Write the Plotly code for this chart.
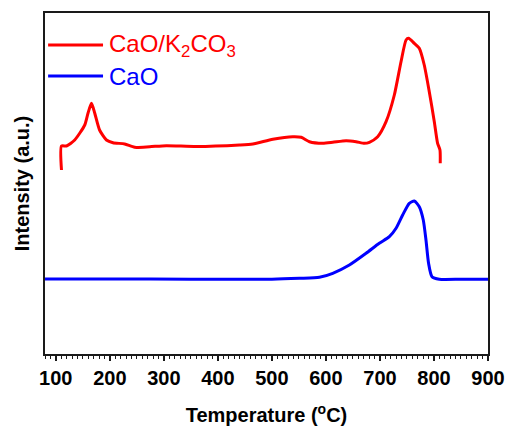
import plotly.graph_objects as go

# TPD profiles, intensity in arbitrary units
temp_k2co3 = [110.5, 110.5, 119.8, 135, 153.6, 159.7, 166, 172, 181, 193.7, 205.9,
              227.5, 246, 273.8, 304.6, 360, 440, 464.7, 501.7, 538.6, 554.2, 569.5,
              594.1, 612.6, 637.4, 655.8, 671.2, 680.4, 695.8, 711.3, 726.6, 739,
              748.3, 753, 763.6, 772.8, 782, 791.3, 800.6, 806.7, 811.1, 811.6]
int_k2co3 = [184, 208, 208, 214, 229, 241, 250.7, 241, 224, 214, 211.3,
             210, 206.7, 207.3, 208.3, 207.5, 209, 210, 214.7, 217.3, 216.7, 212.3,
             210.7, 211.7, 213.3, 212.3, 210.7, 211.7, 217.3, 232.3, 259, 292.3,
             314, 315.7, 310.7, 305.7, 289, 262.3, 232.3, 210.7, 204, 190.7]

temp_cao = [80, 200, 350, 500, 551, 588, 612.6, 643.4, 674.3, 698.7, 717.4, 729.8,
            742, 754.3, 763.6, 772.8, 780.2, 785.2, 790, 796.3, 809.8, 850, 900]
int_cao = [75, 75, 74.8, 74.8, 75.7, 76.7, 80.7, 89, 100.7, 110.7, 117.3, 125.7,
           139, 150.7, 153, 147.3, 134, 114, 90.7, 77.3, 74.8, 74.8, 74.8]

series_names = ["CaO/K<sub>2</sub>CO<sub>3</sub>", "CaO"]
series_colors = ["#ff0000", "#0000ff"]
x_ticks = [100, 200, 300, 400, 500, 600, 700, 800, 900]

FONT = "Liberation Sans, Arial, sans-serif"

fig = go.Figure()
for xs, ys, name, color in [(temp_k2co3, int_k2co3, series_names[0], series_colors[0]),
                            (temp_cao, int_cao, series_names[1], series_colors[1])]:
    fig.add_trace(go.Scatter(x=xs, y=ys, mode="lines", name=name,
                             line=dict(color=color, width=3, shape="spline", smoothing=0.6),
                             showlegend=False))

# hand-placed legend in the upper-left corner
legend_rows = [(0.906, series_names[0], series_colors[0]),
               (0.815, series_names[1], series_colors[1])]
for ypos, name, color in legend_rows:
    fig.add_shape(type="line", xref="paper", yref="paper",
                  x0=0.007, x1=0.131, y0=ypos, y1=ypos,
                  line=dict(color=color, width=3))
    fig.add_annotation(xref="paper", yref="paper", x=0.14, y=ypos,
                       xanchor="left", yanchor="middle", showarrow=False,
                       text=name, font=dict(family=FONT, size=24, color=color))

fig.update_layout(
    width=506, height=426,
    margin=dict(l=45, r=18, t=13, b=72),
    paper_bgcolor="white", plot_bgcolor="white",
    xaxis=dict(
        range=[80, 900], tickvals=x_ticks, automargin=False,
        showline=True, linecolor="#1a1a1a", linewidth=2, mirror=True,
        ticks="outside", ticklen=5, tickwidth=1.5, tickcolor="#1a1a1a",
        minor=dict(dtick=10, ticks="outside", ticklen=3, tickwidth=1, tickcolor="#1a1a1a"),
        showgrid=False, zeroline=False,
        tickfont=dict(family=FONT, size=20, color="black", weight="bold"),
        title=dict(text="Temperature (<sup>o</sup>C)", standoff=20,
                   font=dict(family=FONT, size=20, color="black", weight="bold")),
    ),
    yaxis=dict(
        range=[0, 341], automargin=False,
        showline=True, linecolor="#1a1a1a", linewidth=2, mirror=True,
        showticklabels=False, ticks="", showgrid=False, zeroline=False,
        title=dict(text="Intensity (a.u.)", standoff=8,
                   font=dict(family=FONT, size=20, color="black", weight="bold")),
    ),
)

fig.write_html("out.html")
